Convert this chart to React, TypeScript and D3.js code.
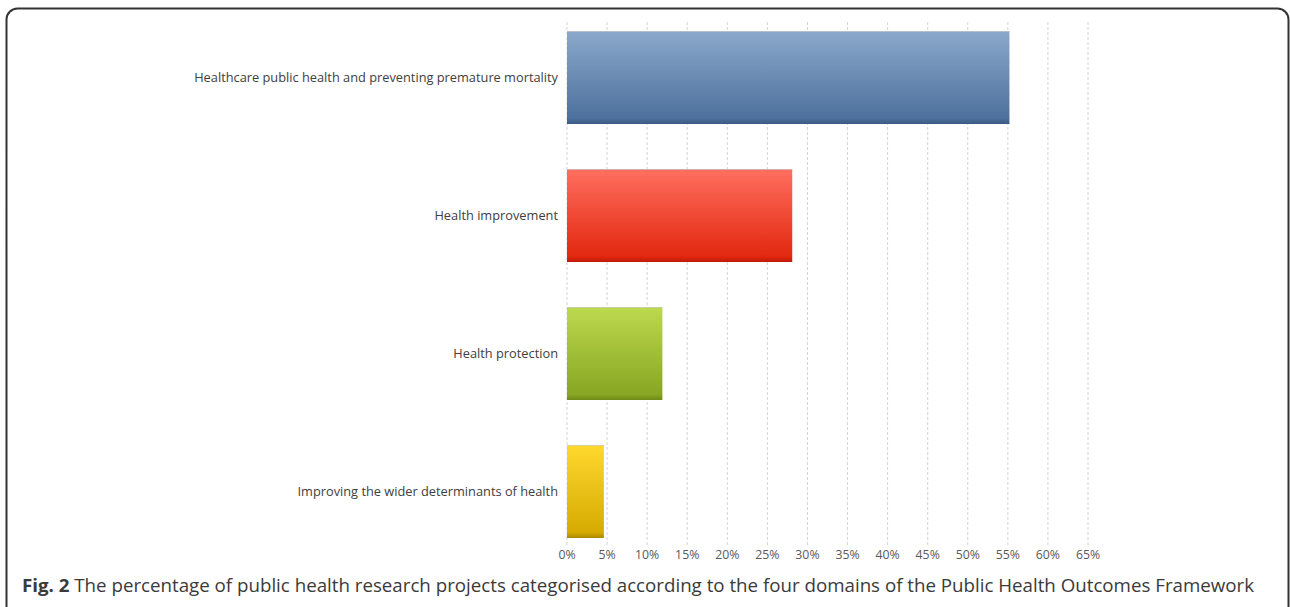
import React from "react";
import * as d3 from "d3";

const categories = [
  "Healthcare public health and preventing premature mortality",
  "Health improvement",
  "Health protection",
  "Improving the wider determinants of health",
];
const values = [55.2, 28.1, 11.9, 4.6];
const ticks = [0, 5, 10, 15, 20, 25, 30, 35, 40, 45, 50, 55, 60, 65];
const gradients = [
  ["#8ba9cc", "#4d709c", "#3b5a82"],
  ["#ff6f5f", "#e22810", "#c01a08"],
  ["#bdd94e", "#88a623", "#6e8a18"],
  ["#ffd82e", "#d6ab02", "#a98800"],
];

export default function App() {
  const W = 1290, H = 607;
  const x = d3.scaleLinear().domain([0, 65]).range([567, 1088]);
  const y = d3.scaleBand<string>().domain(categories).range([8.5, 560.5]).paddingInner(0.326).paddingOuter(0.163);
  const font = "'Open Sans', sans-serif";
  return (
    <div style={{ position: "absolute", left: 0, top: 0 }}>
      <svg width={W} height={H} style={{ display: "block" }}>
        <defs>
          {gradients.map((g, i) => (
            <linearGradient key={i} id={`g${i}`} x1="0" y1="0" x2="0" y2="1">
              <stop offset="0%" stopColor={g[0]} />
              <stop offset="94%" stopColor={g[1]} />
              <stop offset="100%" stopColor={g[2]} />
            </linearGradient>
          ))}
        </defs>
        <rect x={0} y={0} width={W} height={H} fill="#fff" />
        <rect x={6.5} y={8.5} width={1282} height={610} rx={11} ry={11} fill="none" stroke="#333" strokeWidth={2} />
        {ticks.map((t) => (
          <line key={t} x1={x(t)} x2={x(t)} y1={22} y2={546} stroke="#d4d4d4" strokeWidth={1} strokeDasharray="3,2" />
        ))}
        {categories.map((c, i) => {
          const y0 = y(c)!;
          return (
            <g key={c}>
              <rect x={x(0)} y={y0} width={x(values[i]) - x(0)} height={y.bandwidth()} fill={`url(#g${i})`} />
              <line x1={x(0)} x2={x(values[i])} y1={y0 + 0.5} y2={y0 + 0.5} stroke="#c8c8c8" strokeOpacity={0.7} />
              <text x={558} y={y0 + y.bandwidth() / 2} dy="0.35em" textAnchor="end" fontFamily={font} fontSize={12.8} fill="#404040">
                {c}
              </text>
            </g>
          );
        })}
        {ticks.map((t) => (
          <text key={t} x={x(t)} y={555} dy="0.35em" textAnchor="middle" fontFamily={font} fontSize={12.3} fill="#595959">
            {t}%
          </text>
        ))}
        <text x={22} y={592} fontFamily="'Open Sans', sans-serif" fontSize={18.5} fill="#3a3a3a" textLength={1232} lengthAdjust="spacingAndGlyphs">
          <tspan fontWeight="bold">Fig. 2</tspan> The percentage of public health research projects categorised according to the four domains of the Public Health Outcomes Framework
        </text>
      </svg>
    </div>
  );
}
